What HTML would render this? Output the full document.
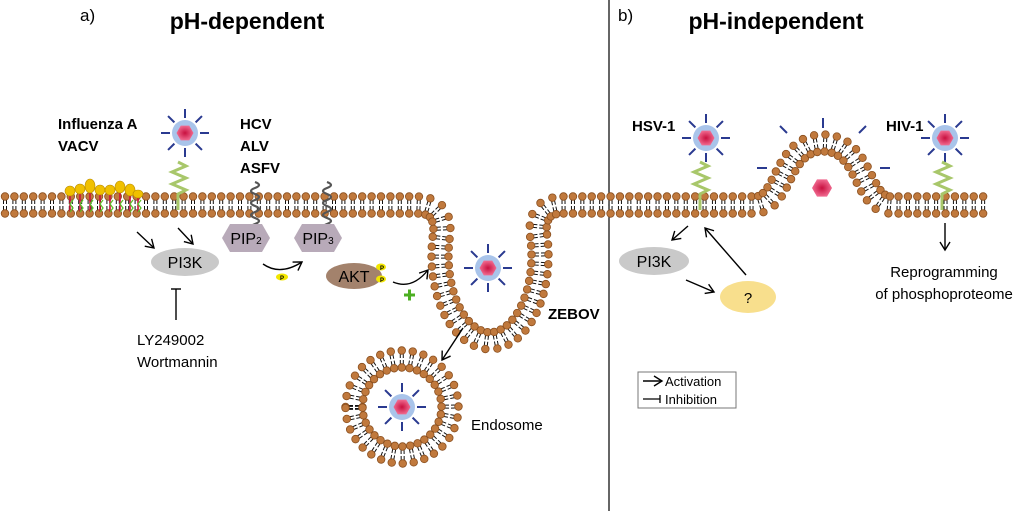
<!DOCTYPE html>
<html><head><meta charset="utf-8"><style>
body{margin:0;background:#fff;width:1024px;height:511px;overflow:hidden}
svg{display:block}
text{font-family:"Liberation Sans",sans-serif}
.b{font-weight:bold;font-size:15px}
.n{font-size:15px}
</style></head><body>
<svg id="s" width="1024" height="511" viewBox="0 0 1024 511" xmlns="http://www.w3.org/2000/svg">
<defs>
<radialGradient id="pk"><stop offset="0" stop-color="#c8103f"/><stop offset="1" stop-color="#f06a90"/></radialGradient>
<marker id="ah" markerWidth="12" markerHeight="12" refX="9" refY="6" orient="auto" markerUnits="userSpaceOnUse"><path d="M1,1 L9,6 L1,11" fill="none" stroke="#000" stroke-width="1.4"/></marker>
</defs>
<line x1="609" y1="0" x2="609" y2="511" stroke="#000" stroke-width="1.2"/>
<g id="mem"></g>
<g id="vir"></g>
<path d="M178,162 l8,4 l-14,6 l14,6 l-14,6 l14,6 l-8,4 L178,210" fill="none" stroke="#a8c76a" stroke-width="3"/>
<path d="M700,162 l8,4 l-14,6 l14,6 l-14,6 l14,6 l-8,4 L700,210" fill="none" stroke="#a8c76a" stroke-width="3"/>
<path d="M942,162 l8,4 l-14,6 l14,6 l-14,6 l14,6 l-8,4 L942,210" fill="none" stroke="#a8c76a" stroke-width="3"/>
<path d="M255,182 q8,3 0,6 q-8,3 0,6 q8,3 0,6 q-8,3 0,6 q8,3 0,6 q-8,3 0,6 q8,3 0,6 q-8,3 0,6 q8,3 0,6" fill="none" stroke="#555" stroke-width="2.2"/>
<path d="M327,182 q8,3 0,6 q-8,3 0,6 q8,3 0,6 q-8,3 0,6 q8,3 0,6 q-8,3 0,6 q8,3 0,6 q-8,3 0,6 q8,3 0,6" fill="none" stroke="#555" stroke-width="2.2"/>
<polygon points="222,238 230,224 262,224 270,238 262,252 230,252" fill="#b8aab9"/>
<polygon points="294,238 302,224 334,224 342,238 334,252 302,252" fill="#b8aab9"/>
<text x="246" y="244" text-anchor="middle" font-size="16">PIP<tspan font-size="10">2</tspan></text>
<text x="318" y="244" text-anchor="middle" font-size="16">PIP<tspan font-size="10">3</tspan></text>
<ellipse cx="185" cy="262" rx="34" ry="14" fill="#c9c9c9"/>
<text x="185" y="268" text-anchor="middle" font-size="16">PI3K</text>
<ellipse cx="354" cy="276" rx="28" ry="13" fill="#a3826c"/>
<text x="354" y="282" text-anchor="middle" font-size="16">AKT</text>
<ellipse cx="381" cy="267" rx="5" ry="3.5" fill="#f2e600"/><ellipse cx="381" cy="279" rx="5" ry="3.5" fill="#f2e600"/>
<ellipse cx="282" cy="277" rx="6" ry="3.5" fill="#f2e600"/>
<text x="282" y="280" text-anchor="middle" font-size="6" font-weight="bold">P</text>
<text x="382" y="270" text-anchor="middle" font-size="6" font-weight="bold">P</text>
<text x="382" y="282" text-anchor="middle" font-size="6" font-weight="bold">P</text>
<ellipse cx="654" cy="261" rx="35" ry="14" fill="#c9c9c9"/>
<text x="654" y="267" text-anchor="middle" font-size="16">PI3K</text>
<ellipse cx="748" cy="297" rx="28" ry="16" fill="#f8df8d"/>
<text x="748" y="303" text-anchor="middle" font-size="15">?</text>
<g stroke="#000" stroke-width="1.4" fill="none" marker-end="url(#ah)">
<line x1="137" y1="232" x2="154" y2="248"/>
<line x1="178" y1="228" x2="193" y2="244"/>
<path d="M263,264 Q280,276 302,262"/>
<path d="M393,282 Q412,290 428,270"/>
<line x1="463" y1="328" x2="442" y2="360"/>
<line x1="688" y1="226" x2="672" y2="240"/>
<line x1="746" y1="275" x2="705" y2="228"/>
<line x1="686" y1="280" x2="714" y2="292"/>
<line x1="945" y1="223" x2="945" y2="250"/>
<line x1="643" y1="381" x2="662" y2="381"/>
</g>
<line x1="176" y1="320" x2="176" y2="289" stroke="#000" stroke-width="1.4"/>
<line x1="171" y1="289" x2="181" y2="289" stroke="#000" stroke-width="1.4"/>
<line x1="643" y1="399" x2="660" y2="399" stroke="#000" stroke-width="1.3"/>
<line x1="660" y1="395" x2="660" y2="403" stroke="#000" stroke-width="1.3"/>
<rect x="638" y="372" width="98" height="36" fill="none" stroke="#777" stroke-width="1"/>
<text x="665" y="386" font-size="13">Activation</text>
<text x="665" y="404" font-size="13">Inhibition</text>
<path d="M404,295 h11 M409.5,289.5 v11" stroke="#4caf22" stroke-width="3"/>
<text x="80" y="21" font-size="17">a)</text>
<text x="247" y="29" text-anchor="middle" font-size="23" font-weight="bold">pH-dependent</text>
<text x="618" y="21" font-size="17">b)</text>
<text x="776" y="29" text-anchor="middle" font-size="23" font-weight="bold">pH-independent</text>
<text x="58" y="129" class="b">Influenza A</text>
<text x="58" y="151" class="b">VACV</text>
<text x="240" y="129" class="b">HCV</text>
<text x="240" y="151" class="b">ALV</text>
<text x="240" y="173" class="b">ASFV</text>
<text x="137" y="345" class="n">LY249002</text>
<text x="137" y="367" class="n">Wortmannin</text>
<text x="548" y="319" class="b">ZEBOV</text>
<text x="471" y="430" class="n">Endosome</text>
<text x="632" y="131" class="b">HSV-1</text>
<text x="886" y="131" class="b">HIV-1</text>
<text x="944" y="277" text-anchor="middle" class="n">Reprogramming</text>
<text x="944" y="299" text-anchor="middle" class="n">of phosphoproteome</text>
</svg>
<script>
var NS="http://www.w3.org/2000/svg",mem=document.getElementById('mem'),vir=document.getElementById('vir');
function el(t,a,p){var e=document.createElementNS(NS,t);for(var k in a)e.setAttribute(k,a[k]);(p||mem).appendChild(e);return e;}
function membrane(d,step){
 var p=el('path',{d:d,fill:'none'});var L=p.getTotalLength();p.remove();
 var tails=[],heads=[];
 for(var s=0;s<=L;s+=step){
  var a=p.getPointAtLength(s),b=p.getPointAtLength(Math.min(L,s+0.5)),c=p.getPointAtLength(Math.max(0,s-0.5));
  var dx=b.x-c.x,dy=b.y-c.y,l=Math.hypot(dx,dy)||1;dx/=l;dy/=l;var nx=-dy,ny=dx;
  [-1,1].forEach(function(sg){
   var hx=a.x+sg*8.5*nx,hy=a.y+sg*8.5*ny;
   var t1x=a.x+sg*5*nx,t1y=a.y+sg*5*ny,t2x=a.x+sg*1*nx,t2y=a.y+sg*1*ny;
   tails.push('M'+(t1x-dx*1.5)+','+(t1y-dy*1.5)+'L'+(t2x-dx*1.5)+','+(t2y-dy*1.5));
   tails.push('M'+(t1x+dx*1.5)+','+(t1y+dy*1.5)+'L'+(t2x+dx*1.5)+','+(t2y+dy*1.5));
   heads.push([hx,hy]);
  });
 }
 el('path',{d:tails.join(''),stroke:'#111','stroke-width':1,fill:'none'});
 heads.forEach(function(h){el('circle',{cx:h[0],cy:h[1],r:3.8,fill:'#c0793d',stroke:'#8a4f1f','stroke-width':0.8});});
}
membrane('M5,205 H416 C436,205 442,214 442,232 A50,85 0 1 0 538,232 C538,214 544,205 564,205 H755 C785,205 780,143 823,143 C866,143 861,205 891,205 H990',9.4);
membrane('M354,407 A48,48 0 1 1 450,407 A48,48 0 1 1 354,407',9.4);
var rx=[70,80,90,100,110,120,130,138],ry=[191,189,186,190,190,187,190,194],rr=[5,5,7,5,5,6,6,4];
rx.forEach(function(x,i){el('line',{x1:x,y1:ry[i]+4,x2:x,y2:212,stroke:'#d0103a','stroke-width':1.6});el('path',{d:'M'+(x+3)+','+(200)+' l-3,4 l3,4 l-3,4',stroke:'#5cc02a','stroke-width':1.3,fill:'none'});el('ellipse',{cx:x,cy:ry[i],rx:5,ry:rr[i],fill:'#f0c000',stroke:'#b88a00','stroke-width':0.6});});
function virus(x,y){
 var g='';for(var i=0;i<8;i++){var a=i*Math.PI/4;g+='M'+(x+15*Math.cos(a))+','+(y+15*Math.sin(a))+'L'+(x+24*Math.cos(a))+','+(y+24*Math.sin(a));}
 el('path',{d:g,stroke:'#2a3a90','stroke-width':2},vir);
 el('circle',{cx:x,cy:y,r:13,fill:'#a9c4ea'},vir);
 hex(x,y,8.5);
}
function hex(x,y,r){var p=[];for(var i=0;i<6;i++){var a=i*Math.PI/3;p.push((x+r*Math.cos(a))+','+(y+r*Math.sin(a)));}el('polygon',{points:p.join(' '),fill:'url(#pk)'},vir);}
virus(185,133);virus(488,268);virus(402,407);virus(706,138);virus(945,138);
hex(822,188,10);
el('path',{d:'M823,118v10 M780,126l7,7 M866,126l-7,7 M757,168h10 M880,168h10',stroke:'#2a3a90','stroke-width':2},vir);
</script>
</body></html>
